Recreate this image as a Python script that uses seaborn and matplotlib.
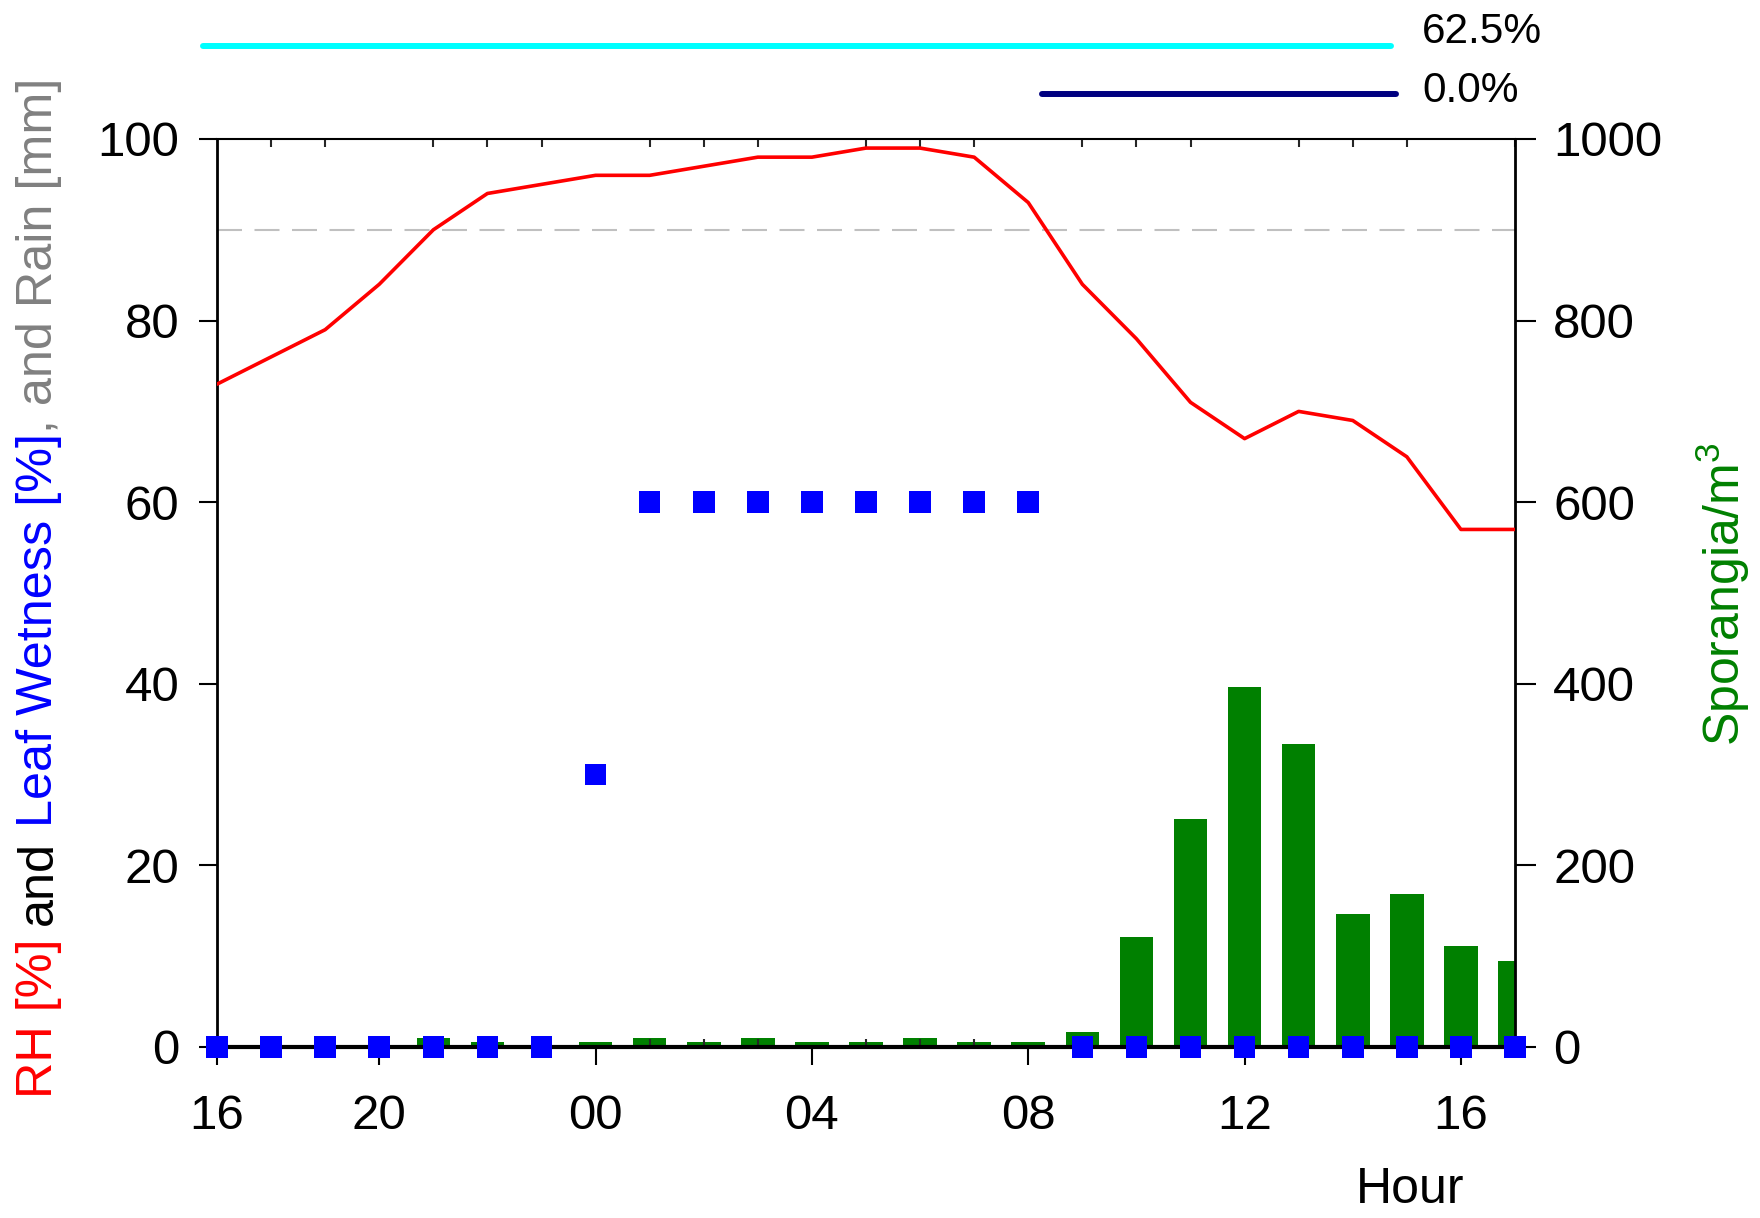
import numpy as np
import pandas as pd
import matplotlib
matplotlib.use("Agg")
import matplotlib.pyplot as plt
import matplotlib.transforms as mtransforms
import seaborn as sns

# ---------------- data ----------------
hours = list(range(25))
rh = [73, 76, 79, 84, 90, 94, 95, 96, 96, 97, 98, 98, 99, 99, 98, 93,
      84, 78, 71, 67, 70, 69, 65, 57, 57]
leaf_wetness = [0, 0, 0, 0, 0, 0, 0, 30, 60, 60, 60, 60, 60, 60, 60, 60,
                0, 0, 0, 0, 0, 0, 0, 0, 0]
sporangia = [0, 0, 0, 0, 10, 5, 0, 5, 10, 5, 10, 5, 5, 10, 5, 5,
             16, 121, 251, 397, 334, 147, 168, 111, 95]
tick_positions = [0, 3, 7, 11, 15, 19, 23]
tick_labels = ["16", "20", "00", "04", "08", "12", "16"]
rh_threshold = 90
ind_start = [-0.25, 15.25]
ind_end = [21.7, 21.8]
ind_labels = ["62.5%", "0.0%"]
ind_colors = ["#00ffff", "#000080"]

# ---------------- style ----------------
sns.set_theme(style="white")
plt.rcParams["font.family"] = ["Liberation Sans", "DejaVu Sans"]
plt.rcParams["mathtext.fontset"] = "custom"
plt.rcParams["mathtext.rm"] = "Liberation Sans"
plt.rcParams["mathtext.it"] = "Liberation Sans:italic"
plt.rcParams["axes.edgecolor"] = "black"
plt.rcParams["text.color"] = "black"

W, H = 1760, 1218
fig = plt.figure(figsize=(W / 100, H / 100), dpi=100)
fig.patch.set_facecolor("white")
ax = fig.add_axes([217 / W, 1 - 1047 / H, 1298 / W, 908 / H])
ax2 = ax.twinx()
ax.set_zorder(ax2.get_zorder() + 1)
ax.patch.set_visible(False)

df = pd.DataFrame({"hour": hours, "rh": rh, "lw": leaf_wetness, "spor": sporangia})

# bars (right axis)
sns.barplot(data=df, x="hour", y="spor", native_scale=True, width=0.62,
            color="#008000", saturation=1, errorbar=None, ax=ax2, linewidth=0)

# threshold line
ax.axhline(rh_threshold, color="#c0c0c0", lw=1.5, dashes=(12, 6), zorder=1)

# RH line
sns.lineplot(data=df, x="hour", y="rh", color="#ff0000", linewidth=2.6, ax=ax, zorder=3)

# leaf wetness squares
sns.scatterplot(data=df, x="hour", y="lw", marker="s", s=240, color="#0000ff",
                edgecolor="none", linewidth=0, ax=ax, zorder=4, clip_on=False)

# indicator lines above the plot
trans = mtransforms.blended_transform_factory(ax.transData, ax.transAxes)
ind_y = [1.1025, 1.0496]
txt_y = [1.118, 1.053]
for s, e, lab, c, y, ty in zip(ind_start, ind_end, ind_labels, ind_colors, ind_y, txt_y):
    ax.plot([s, e], [y, y], color=c, lw=4.3, solid_capstyle="round",
            transform=trans, clip_on=False)
    ax.text(22.28, ty, lab, transform=trans, ha="left", va="center",
            fontsize=30.5, color="black")

# axes limits / ticks
ax.set_xlim(0, 24)
ax.set_ylim(0, 100)
ax2.set_ylim(0, 1000)
ax.set_xticks(tick_positions, tick_labels)
ax.set_xticks([h for h in hours if h not in tick_positions], minor=True)
ax.tick_params(axis="x", which="major", direction="out", length=13, width=1.5,
               top=False, bottom=True, pad=21, labelsize=35.5, colors="black")
ax.tick_params(axis="x", which="minor", direction="in", length=6, width=1.5,
               top=True, bottom=True)
ax.set_yticks(range(0, 101, 20))
ax.tick_params(axis="y", which="major", direction="out", length=13, width=1.5,
               left=True, right=False, pad=14, labelsize=35.5, colors="black")
ax2.set_yticks(range(0, 1001, 200))
ax2.tick_params(axis="y", which="major", direction="out", length=15, width=1.5,
                right=True, left=False, pad=12.5, labelsize=35.5, colors="black")
ax.set_xlabel("")
ax.set_ylabel("")
ax2.set_xlabel("")
ax2.set_ylabel("")

for sp in ax2.spines.values():
    sp.set_visible(False)
for name, lw in [("left", 2), ("top", 1.5), ("right", 2), ("bottom", 3)]:
    ax.spines[name].set_visible(True)
    ax.spines[name].set_linewidth(lw)
    ax.spines[name].set_color("black")

# axis titles
fig.text(1410 / W, 1 - 1190 / H, "Hour", ha="center", va="center", fontsize=36,
         color="black")
fig.text(1723 / W, 1 - 594 / H, "Sporangia/m$^3$", ha="center", va="center",
         rotation=90, fontsize=36, color="#008000")

# multi-coloured left label
pieces = [("RH [%]", "#ff0000", True), ("and", "black", True),
          ("Leaf Wetness [%]", "#0000ff", False), (", and Rain [mm]", "#808080", False)]
renderer = fig.canvas.get_renderer()
fs = 36.3
space_px = 0.278 * fs * 100 / 72
texts = []
total = 0
for s, c, gap in pieces:
    t = fig.text(39 / W, 0.5, s, rotation=90, ha="center", va="bottom",
                 fontsize=fs, color=c)
    h = t.get_window_extent(renderer).height
    texts.append((t, h, gap))
    total += h + (space_px if gap else 0)
center_px = H - 588
y = center_px - total / 2
for t, h, gap in texts:
    t.set_y(y / H)
    y += h + (space_px if gap else 0)

fig.savefig("out.png", dpi=100)
